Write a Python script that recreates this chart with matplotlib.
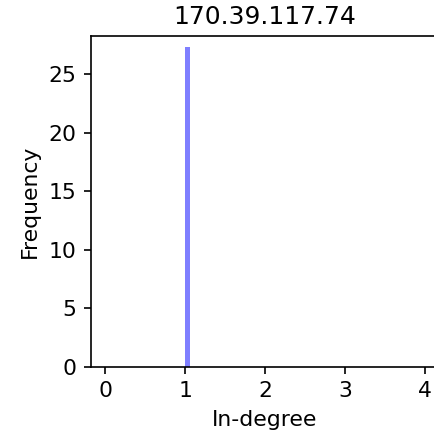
import matplotlib
matplotlib.use("Agg")
import matplotlib.pyplot as plt

# in-degree histogram for one host
degrees = [1]
counts = [27.3]
title = "170.39.117.74"

plt.rcParams['font.size'] = 10.5

fig = plt.figure(figsize=(434 / 150, 438 / 150), dpi=150)
ax = fig.add_axes([0.2097, 0.1628, 0.8018, 0.755])

ax.bar(degrees, counts, width=0.06, align='edge', color='blue', alpha=0.5)

ax.set_xlim(-0.175, 4.175)
ax.set_ylim(0, 28.27)
ax.set_xticks([0, 1, 2, 3, 4])
ax.set_yticks([0, 5, 10, 15, 20, 25])
ax.set_xlabel("In-degree")
ax.set_ylabel("Frequency")
ax.set_title(title, fontsize=12)

fig.savefig("out.png", dpi=150)
